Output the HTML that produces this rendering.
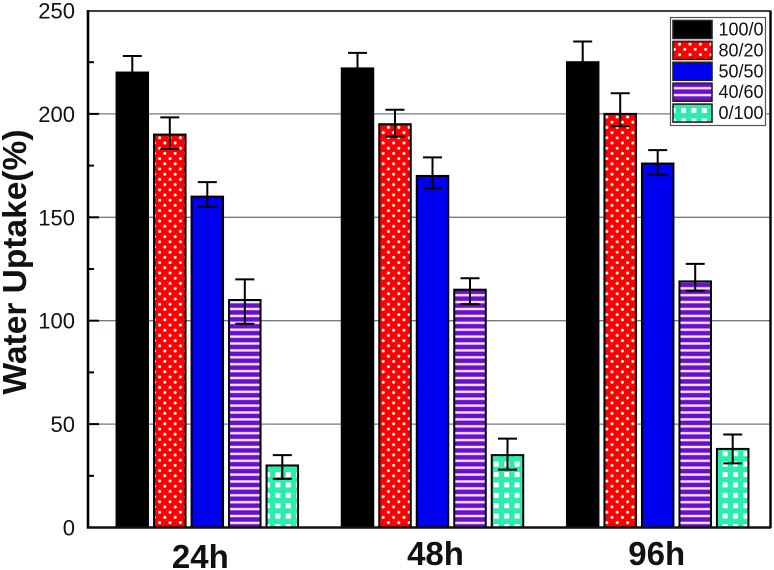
<!DOCTYPE html>
<html lang="en">
<head>
<meta charset="utf-8">
<title>Water Uptake chart</title>
<style>
html,body{margin:0;padding:0;background:#fff;width:774px;height:570px;overflow:hidden}
svg{display:block}
text{font-family:"Liberation Sans",Arial,sans-serif;fill:#111}
</style>
</head>
<body>
<svg id="chart" xmlns="http://www.w3.org/2000/svg" width="774" height="570" viewBox="0 0 774 570">
<defs>
<pattern id="p-dots" patternUnits="userSpaceOnUse" width="10.4" height="10.4" x="1" y="0">
<rect width="10.4" height="10.4" fill="#f00"/>
<circle cx="2.6" cy="2.6" r="1.5" fill="#fff"/>
<circle cx="7.8" cy="7.8" r="1.5" fill="#fff"/>
</pattern>
<pattern id="p-stripes" patternUnits="userSpaceOnUse" width="8" height="6.9" x="0" y="0">
<rect width="8" height="6.9" fill="#6a0fd0"/>
<rect y="4.2" width="8" height="2.4" fill="#f4e4ff"/>
</pattern>
<pattern id="p-squares" patternUnits="userSpaceOnUse" width="10.4" height="10.4" x="3" y="2">
<rect width="10.4" height="10.4" fill="#2cecb0"/>
<rect x="2" y="2" width="5" height="5" fill="#fff"/>
</pattern>
</defs>
<g id="grid"></g>
<g id="bars"></g>
<g id="axes"></g>
<text transform="translate(26,262) rotate(-90)" text-anchor="middle" font-size="33.5" font-weight="bold">Water Uptake(%)</text>
<g id="legend"></g>
</svg>
<script>
var categories = ['24h', '48h', '96h'];
var seriesNames = ['100/0', '80/20', '50/50', '40/60', '0/100'];
var values100 = [220, 222, 225];
var values80 = [190, 195, 200];
var values50 = [160, 170, 176];
var values40 = [110, 115, 119];
var values0 = [30, 35, 38];
var upper100 = [228, 229.5, 235];
var upper80 = [198.3, 202, 210];
var upper50 = [167, 179, 182.5];
var upper40 = [120, 120.5, 127.5];
var upper0 = [35, 43, 45];
var lower100 = [212, 215, 215];
var lower80 = [183, 189, 194];
var lower50 = [155, 164, 170.5];
var lower40 = [98.5, 108, 114.5];
var lower0 = [23.5, 28, 31];
var yTicks = [0, 50, 100, 150, 200, 250];
var yMinorTicks = [25, 75, 125, 175, 225];
var gridValues = [50, 100, 150, 200];

var seriesValues = [values100, values80, values50, values40, values0];
var seriesUpper = [upper100, upper80, upper50, upper40, upper0];
var seriesLower = [lower100, lower80, lower50, lower40, lower0];
var seriesFill = ['#000', 'url(#p-dots)', '#0000f0', 'url(#p-stripes)', 'url(#p-squares)'];

var NS = 'http://www.w3.org/2000/svg';
function mk(parent, tag, attrs, txt) {
  var e = document.createElementNS(NS, tag);
  for (var k in attrs) e.setAttribute(k, attrs[k]);
  if (txt !== undefined) e.textContent = txt;
  parent.appendChild(e);
  return e;
}
function yScale(v) { return 527.5 - v * 2.068; }
function xScale(groupIndex, seriesIndex) { return 207.3 + groupIndex * 225.2 + (seriesIndex - 2) * 37.5; }
var BAR_W = 31.5, CAP_HALF = 9.5;

var grid = document.getElementById('grid');
var bars = document.getElementById('bars');
var axes = document.getElementById('axes');
var legend = document.getElementById('legend');

gridValues.forEach(function (v) {
  var l = mk(grid, 'line', { x1: 88, x2: 770, y1: yScale(v), y2: yScale(v), stroke: '#6f7d85', 'stroke-width': 1.3 });
  
  
});

categories.forEach(function (c, g) {
  seriesNames.forEach(function (s, i) {
    var cx = xScale(g, i), v = seriesValues[i][g];
    var r = mk(bars, 'rect', { x: cx - BAR_W / 2, y: yScale(v), width: BAR_W, height: yScale(0) - yScale(v), fill: seriesFill[i], stroke: '#000', 'stroke-width': 2 });
    
    
    var hi = yScale(seriesUpper[i][g]), lo = yScale(seriesLower[i][g]);
    var eb = mk(bars, 'path', {
      d: 'M' + (cx - CAP_HALF) + ' ' + hi + 'h' + (2 * CAP_HALF) + 'M' + cx + ' ' + hi + 'V' + lo + 'M' + (cx - CAP_HALF) + ' ' + lo + 'h' + (2 * CAP_HALF),
      fill: 'none', stroke: '#000', 'stroke-width': 2
    });
    
    
  });
});

var frame = mk(axes, 'path', { d: 'M88 11H770', stroke: '#000', 'stroke-width': 1.6, fill: 'none' });


var right = mk(axes, 'path', { d: 'M770.5 10.5V528', stroke: '#000', 'stroke-width': 2.4, fill: 'none' });


var bottom = mk(axes, 'path', { d: 'M87 527.5H771', stroke: '#111', 'stroke-width': 2.4, fill: 'none' });


var left = mk(axes, 'path', { d: 'M88 10V528.5', stroke: '#000', 'stroke-width': 2.6, fill: 'none' });



yTicks.forEach(function (v) {
  if (v > 0 && v < 250) {
    var t = mk(axes, 'line', { x1: 88, x2: 99, y1: yScale(v), y2: yScale(v), stroke: '#000', 'stroke-width': 2 });
    
    
  }
  var lab = mk(axes, 'text', { x: 75, y: yScale(v) + 8, 'text-anchor': 'end', 'font-size': 22 }, String(v));
  
  
});
yMinorTicks.forEach(function (v) {
  var t = mk(axes, 'line', { x1: 88, x2: 94, y1: yScale(v), y2: yScale(v), stroke: '#000', 'stroke-width': 2 });
  
  
});
categories.forEach(function (c, g) {
  var nudgeX = g === 0 ? -7 : (g === 1 ? 3 : -1);
  var baseline = g === 0 ? 568 : 565;
  var lab = mk(axes, 'text', { x: xScale(g, 2) + nudgeX, y: baseline, 'text-anchor': 'middle', 'font-size': 33, 'font-weight': 'bold' }, c);
  
  
});

var box = mk(legend, 'rect', { x: 670.5, y: 17.5, width: 95, height: 108, fill: '#fff', stroke: '#555', 'stroke-width': 1.2 });


seriesNames.forEach(function (s, i) {
  var y = 20.5 + i * 20.9;
  var sw = mk(legend, 'rect', { x: 673, y: y, width: 39, height: 18, fill: seriesFill[i], stroke: '#222', 'stroke-width': 1.6 });
  
  
  var t = mk(legend, 'text', { x: 763.5, y: y + 15, 'text-anchor': 'end', 'font-size': 18 }, s);
  
  
});
</script>
</body>
</html>
